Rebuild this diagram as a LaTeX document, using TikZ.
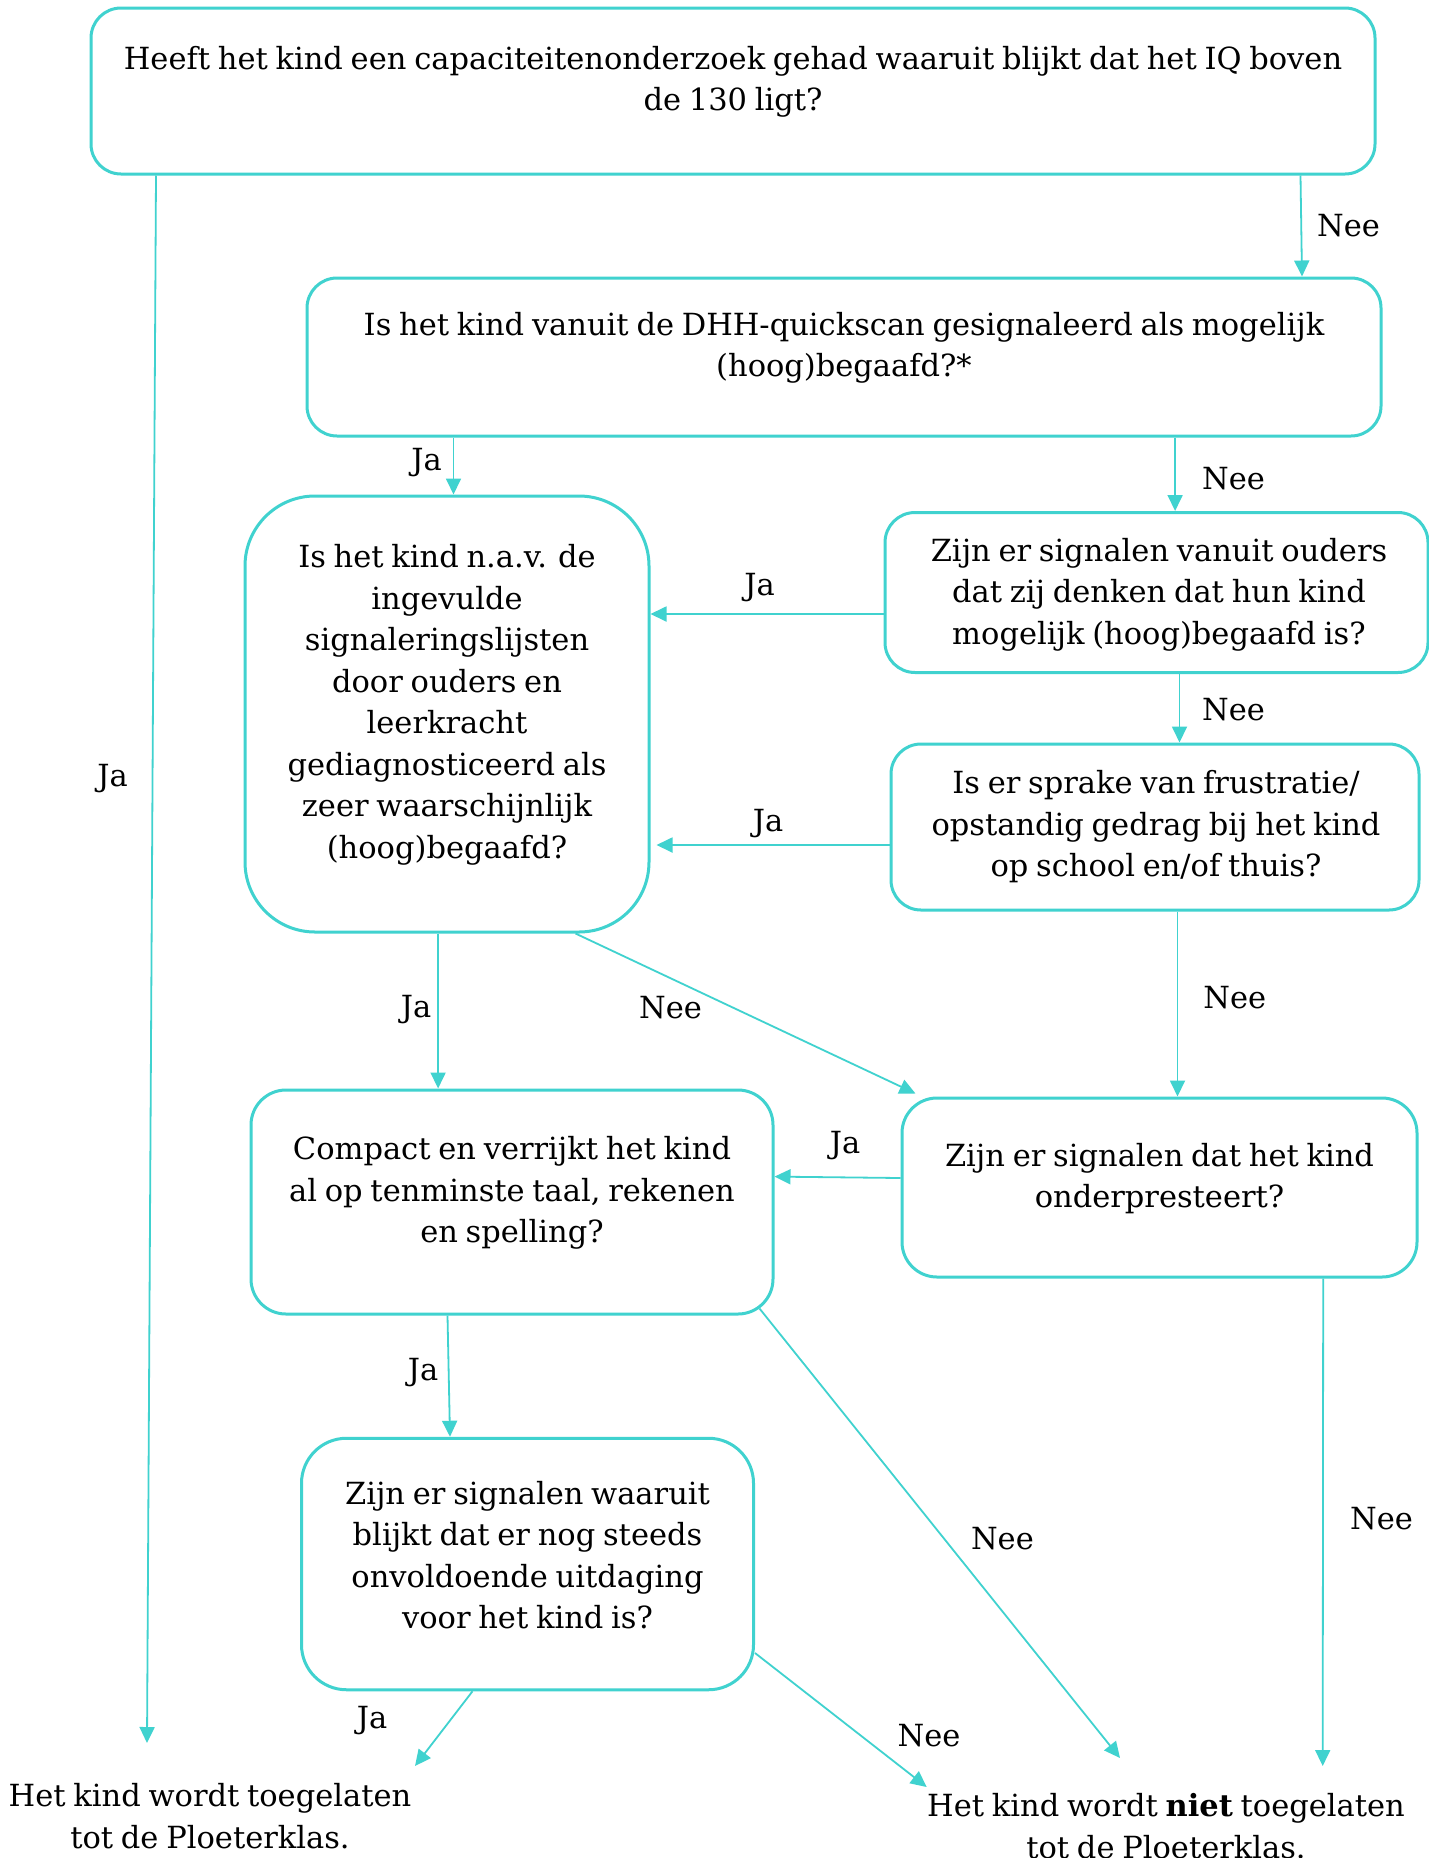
\documentclass[tikz,border=0pt]{standalone}
\usepackage{fontspec}
\setmainfont{DejaVu Serif}[WordSpace=0.8]
\usetikzlibrary{arrows.meta,calc}
\definecolor{tq}{RGB}{64,210,207}
\begin{document}
\begin{tikzpicture}[x=1pt,y=-1pt,
  box/.style={draw=tq, line width=3pt, rectangle, rounded corners=#1, inner sep=0pt},
  box/.default=30pt,
  txt/.style={align=center, inner sep=0pt, font=\fontsize{30.5}{41.5}\selectfont},
  lbl/.style={inner sep=0pt, font=\fontsize{30.5}{36}\selectfont},
  conn/.style={draw=tq, line width=1.8pt, -{Triangle[length=16pt,width=15pt]}}]
\useasboundingbox (0,0) rectangle (1429,1858);
\fill[white] (0,0) rectangle (1429,1858);

% boxes
\node[box=30pt, minimum width=1284pt, minimum height=166pt] (b1) at (733,91) {};
\node[box=30pt, minimum width=1074pt, minimum height=158pt] (b2) at (844,357) {};
\node[box=70pt, minimum width=404pt, minimum height=436pt] (b3) at (447,714) {};
\node[box=30pt, minimum width=543pt, minimum height=160pt] (b4) at (1156.5,592.5) {};
\node[box=30pt, minimum width=528pt, minimum height=166pt] (b5) at (1155,827) {};
\node[box=35pt, minimum width=522pt, minimum height=224pt] (b6) at (512,1202) {};
\node[box=35pt, minimum width=515pt, minimum height=179pt] (b7) at (1159.5,1187.5) {};
\node[box=45pt, minimum width=452pt, minimum height=251.5pt] (b8) at (527.5,1564) {};

% texts
\node[txt] (t1) at ($(b1.center)+(0,-9)$) {Heeft het kind een capaciteitenonderzoek gehad waaruit blijkt dat het IQ boven\\de 130 ligt?};
\node[txt] (t2) at ($(b2.center)+(0,-9)$) {Is het kind vanuit de DHH-quickscan gesignaleerd als mogelijk\\(hoog)begaafd?*};
\node[txt] (t3) at ($(b3.center)+(0,-9)$) {Is het kind n.a.v. de\\ingevulde\\signaleringslijsten\\door ouders en\\leerkracht\\gediagnosticeerd als\\zeer waarschijnlijk\\(hoog)begaafd?};
\node[txt] (t4) at ($(b4.center)+(2.5,2)$) {Zijn er signalen vanuit ouders\\dat zij denken dat hun kind\\mogelijk (hoog)begaafd is?};
\node[txt] (t5) at ($(b5.center)+(1,0)$) {Is er sprake van frustratie/\\opstandig gedrag bij het kind\\op school en/of thuis?};
\node[txt] (t6) at ($(b6.center)+(0,-9)$) {Compact en verrijkt het kind\\al op tenminste taal, rekenen\\en spelling?};
\node[txt] (t7) at ($(b7.center)+(0,-9)$) {Zijn er signalen dat het kind\\onderpresteert?};
\node[txt] (t8) at ($(b8.center)+(0,-9)$) {Zijn er signalen waaruit\\blijkt dat er nog steeds\\onvoldoende uitdaging\\voor het kind is?};
\node[txt] (e1) at (210,1816) {Het kind wordt toegelaten\\tot de Ploeterklas.};
\node[txt] (e2) at (1166,1826) {Het kind wordt \textbf{niet} toegelaten\\tot de Ploeterklas.};

% connectors
\draw[conn] ($(b1.south west)+(66.5,0)$) -- ($(e1.center)+(-63,-73)$);
\draw[conn] ($(b1.south west)+(1211,0)$) -- ($(b2.north west)+(996.5,0)$);
\draw[conn] ($(b2.south west)+(148,0)$) -- ($(b3.north west)+(210,0)$);
\draw[conn] ($(b2.south west)+(869.6,0)$) -- ($(b4.north west)+(291.6,0)$);
\draw[conn] ($(b4.west)+(0,21.5)$) -- ($(b3.east)+(0,-100)$);
\draw[conn] ($(b4.south west)+(296,0)$) -- ($(b5.north west)+(290,0)$);
\draw[conn] ($(b5.west)+(0,18)$) -- ($(b3.east)+(6,131)$);
\draw[conn] ($(b3.south west)+(194.6,0)$) -- ($(b6.north west)+(188.6,0)$);
\draw[conn] ($(b3.south west)+(332,0)$) -- ($(b7.north west)+(15,-3)$);
\draw[conn] ($(b5.south west)+(288,0)$) -- ($(b7.north west)+(277,0)$);
\draw[conn] ($(b7.west)+(0,-9.5)$) -- ($(b6.east)+(0,-25.4)$);
\draw[conn] ($(b7.south west)+(422.7,0)$) -- ($(e2.center)+(156.7,-60)$);
\draw[conn] ($(b6.south west)+(198,0)$) -- ($(b8.north west)+(150,0)$);
\draw[conn] ($(b6.south east)+(-15,-7)$) -- ($(e2.center)+(-46,-68)$);
\draw[conn] ($(b8.south west)+(172.5,0)$) -- ($(e1.center)+(205,-50)$);
\draw[conn] ($(b8.east)+(0,89)$) -- ($(e2.center)+(-239.3,-39)$);

% labels
\node[lbl] (l1) at (112.6,778.5) {Ja};
\node[lbl] (l2) at (1348.5,226) {Nee};
\node[lbl] (l3) at (426.6,463) {Ja};
\node[lbl] (l4) at (1233.5,478.7) {Nee};
\node[lbl] (l5) at (759.5,587.7) {Ja};
\node[lbl] (l6) at (1233.5,709.8) {Nee};
\node[lbl] (l7) at (768,823.5) {Ja};
\node[lbl] (l8) at (416,1009.5) {Ja};
\node[lbl] (l9) at (670.6,1008) {Nee};
\node[lbl] (l10) at (1234.7,997.7) {Nee};
\node[lbl] (l11) at (845,1145.8) {Ja};
\node[lbl] (l12) at (1381.6,1519) {Nee};
\node[lbl] (l13) at (423,1373) {Ja};
\node[lbl] (l14) at (1002.4,1539) {Nee};
\node[lbl] (l15) at (372,1720.5) {Ja};
\node[lbl] (l16) at (929,1736) {Nee};
\end{tikzpicture}
\end{document}
